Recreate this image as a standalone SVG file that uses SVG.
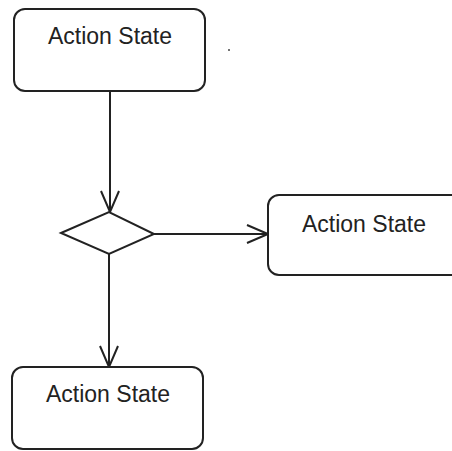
<svg xmlns="http://www.w3.org/2000/svg" width="452" height="451" viewBox="0 0 452 451">
<style>
.box{fill:#fff;stroke:#222;stroke-width:2}
.lbl{font-family:"Liberation Sans",Arial,sans-serif;font-size:23px;fill:#222;text-anchor:middle}
.ln{fill:none;stroke:#222;stroke-width:2}
</style>
<defs>
<marker id="open" viewBox="0 0 24 20" refX="22" refY="10" markerWidth="24" markerHeight="20" markerUnits="userSpaceOnUse" orient="auto">
<path d="M1,1 L22,10 L1,19" fill="none" stroke="#222" stroke-width="2"/>
</marker>
</defs>
<rect width="452" height="451" fill="#fff"/>
<g id="connectors">
<line class="ln" x1="110" y1="91" x2="110" y2="212" marker-end="url(#open)"/>
<line class="ln" x1="154" y1="234" x2="268" y2="234" marker-end="url(#open)"/>
<line class="ln" x1="109" y1="254" x2="109" y2="367" marker-end="url(#open)"/>
</g>
<g id="action1">
<rect class="box" x="14" y="9" width="191" height="82" rx="11"/>
<text class="lbl" x="110" y="44">Action State</text>
</g>
<g id="decision">
<polygon class="box" points="61,233 109,212 154,234 109,254"/>
</g>
<g id="action2">
<rect class="box" x="268" y="195" width="200" height="80" rx="11"/>
<text class="lbl" x="364" y="232">Action State</text>
</g>
<g id="action3">
<rect class="box" x="12" y="367" width="191" height="82" rx="11"/>
<text class="lbl" x="108" y="402">Action State</text>
</g>
<circle cx="229" cy="50" r="1" fill="#444"/>
</svg>
